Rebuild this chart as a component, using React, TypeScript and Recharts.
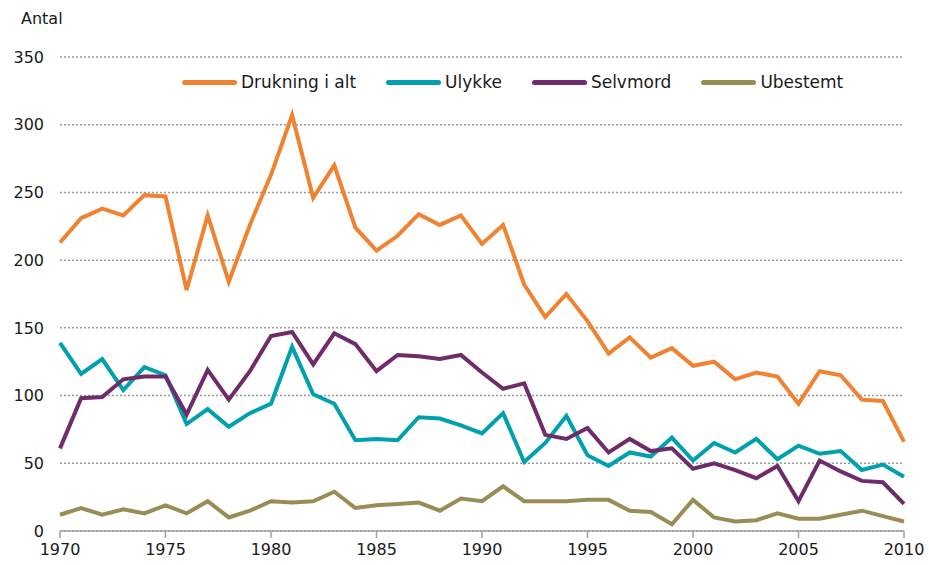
import React from 'react'
import { LineChart, Line, XAxis, YAxis, CartesianGrid } from 'recharts'

// Drowning deaths in Norway by cause, 1970-2010
const years = [
  1970, 1971, 1972, 1973, 1974, 1975, 1976, 1977, 1978, 1979,
  1980, 1981, 1982, 1983, 1984, 1985, 1986, 1987, 1988, 1989,
  1990, 1991, 1992, 1993, 1994, 1995, 1996, 1997, 1998, 1999,
  2000, 2001, 2002, 2003, 2004, 2005, 2006, 2007, 2008, 2009, 2010,
]

const drukning = [
  213, 231, 238, 233, 248, 247, 178, 233, 184, 226,
  263, 307, 246, 270, 224, 207, 218, 234, 226, 233,
  212, 226, 182, 158, 175, 155, 131, 143, 128, 135,
  122, 125, 112, 117, 114, 94, 118, 115, 97, 96, 66,
]

const ulykke = [
  139, 116, 127, 104, 121, 115, 79, 90, 77, 87,
  94, 136, 101, 94, 67, 68, 67, 84, 83, 78,
  72, 87, 51, 65, 85, 56, 48, 58, 55, 69,
  52, 65, 58, 68, 53, 63, 57, 59, 45, 49, 40,
]

const selvmord = [
  61, 98, 99, 112, 114, 114, 86, 119, 97, 118,
  144, 147, 123, 146, 138, 118, 130, 129, 127, 130,
  117, 105, 109, 71, 68, 76, 58, 68, 59, 61,
  46, 50, 45, 39, 48, 22, 52, 44, 37, 36, 20,
]

const ubestemt = [
  12, 17, 12, 16, 13, 19, 13, 22, 10, 15,
  22, 21, 22, 29, 17, 19, 20, 21, 15, 24,
  22, 33, 22, 22, 22, 23, 23, 15, 14, 5,
  23, 10, 7, 8, 13, 9, 9, 12, 15, 11, 7,
]

const xTicks = [1970, 1975, 1980, 1985, 1990, 1995, 2000, 2005, 2010]
const yTicks = [0, 50, 100, 150, 200, 250, 300, 350]

const SERIES = [
  { key: 'drukning', name: 'Drukning i alt', color: '#F08331' },
  { key: 'ulykke', name: 'Ulykke', color: '#00A0AE' },
  { key: 'selvmord', name: 'Selvmord', color: '#6E2C6B' },
  { key: 'ubestemt', name: 'Ubestemt', color: '#978D55' },
]

const FONT = '"DejaVu Sans", Verdana, sans-serif'

const chartData = years.map((year, i) => ({
  year,
  drukning: drukning[i],
  ulykke: ulykke[i],
  selvmord: selvmord[i],
  ubestemt: ubestemt[i],
}))

export default function App() {
  return (
    <div
      style={{
        position: 'absolute',
        left: 0,
        top: 0,
        width: 929,
        height: 565,
        background: '#fff',
        fontFamily: FONT,
      }}
    >
      <div style={{ position: 'absolute', left: 21, top: 9, fontSize: 16, color: '#1a1a1a' }}>
        Antal
      </div>

      {/* legend, drawn by hand so it doesn't push the plot area around */}
      <div
        style={{
          position: 'absolute',
          left: 182,
          top: 72,
          display: 'flex',
          alignItems: 'center',
          fontSize: 17,
          color: '#1a1a1a',
          zIndex: 2,
        }}
      >
        {SERIES.map((s, i) => (
          <div
            key={s.key}
            style={{ display: 'flex', alignItems: 'center', marginRight: i < SERIES.length - 1 ? 30 : 0 }}
          >
            <span
              style={{
                display: 'inline-block',
                width: 55,
                height: 5,
                borderRadius: 3,
                background: s.color,
                marginRight: 4,
              }}
            />
            <span>{s.name}</span>
          </div>
        ))}
      </div>

      <LineChart
        width={929}
        height={565}
        data={chartData}
        margin={{ top: 57, right: 25, left: 0, bottom: 4 }}
      >
        <CartesianGrid
          horizontal
          vertical={false}
          stroke="#9a9a9a"
          strokeWidth={1.5}
          strokeDasharray="2 2"
        />
        <XAxis
          dataKey="year"
          type="number"
          domain={[1970, 2010]}
          ticks={xTicks}
          height={30}
          stroke="#a0a0a0"
          strokeWidth={1.5}
          tickSize={7}
          tickMargin={6}
          tick={{ fill: '#1a1a1a', fontSize: 16, fontFamily: FONT }}
        />
        <YAxis
          type="number"
          domain={[0, 350]}
          ticks={yTicks}
          width={60}
          axisLine={false}
          tickLine={false}
          tickSize={0}
          tickMargin={16}
          tick={{ fill: '#1a1a1a', fontSize: 16, fontFamily: FONT }}
        />
        {SERIES.map((s) => (
          <Line
            key={s.key}
            dataKey={s.key}
            name={s.name}
            type="linear"
            stroke={s.color}
            strokeWidth={4}
            dot={false}
            activeDot={false}
            isAnimationActive={false}
          />
        ))}
      </LineChart>
    </div>
  )
}
